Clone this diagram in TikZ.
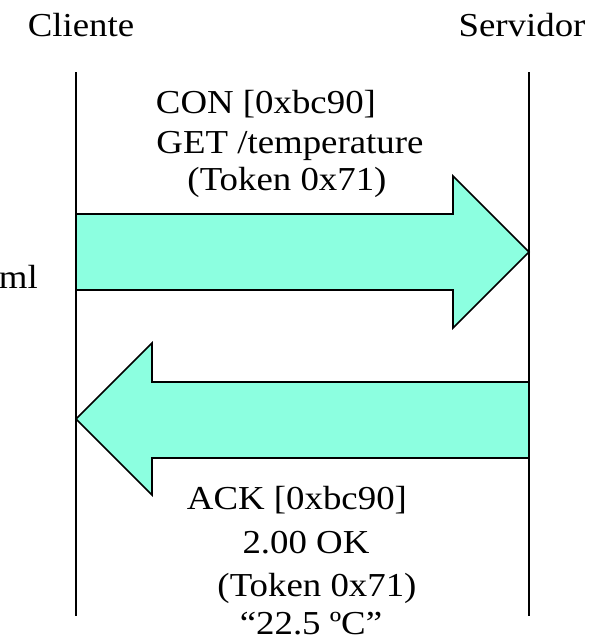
\documentclass[tikz,border=0pt]{standalone}
\usepackage{fontspec}
\setmainfont[FakeStretch=1.1]{Liberation Serif}
\definecolor{msgfill}{RGB}{140,255,224}
\tikzset{
    lbl/.style={anchor=base, inner sep=0pt, font=\fontsize{33.5}{40}\selectfont},
    lifeline/.style={line width=1.6pt},
    msgarrow/.style={draw, fill=msgfill, line width=1.6pt, line join=miter}
}
\begin{document}
    \begin{tikzpicture}[x=1pt,y=-1pt]
        \useasboundingbox (0,0) rectangle (605,642);

        \node[lbl] (cli) at (81, 37) {Cliente};
        \node[lbl] (srv) at (522, 37) {Servidor};
        \node[lbl, anchor=base east] (ml) at (38, 288) {ml};

        \coordinate (cliTop) at (76, 72);
        \coordinate (cliBot) at (76, 616);
        \coordinate (srvTop) at (529, 72);
        \coordinate (srvBot) at (529, 616);

        \draw[lifeline] (cliTop) -- (cliBot);
        \draw[lifeline] (srvTop) -- (srvBot);

        % request
        \draw[msgarrow] (76, 214) -- (453, 214) -- (453, 176) -- (529, 252)
            -- (453, 328) -- (453, 290) -- (76, 290) -- cycle;
        \node[lbl] (req1) at (266, 113) {CON [0xbc90]};
        \node[lbl] (req2) at (290, 153) {GET /temperature};
        \node[lbl] (req3) at (287, 190) {(Token 0x71)};

        % response
        \draw[msgarrow] (529, 382) -- (152, 382) -- (152, 343) -- (76, 419)
            -- (152, 495) -- (152, 458) -- (529, 458) -- cycle;
        \node[lbl] (res1) at (297, 509) {ACK [0xbc90]};
        \node[lbl] (res2) at (306, 553) {2.00 OK};
        \node[lbl] (res3) at (317, 596) {(Token 0x71)};
        \node[lbl] (res4) at (311, 634) {“22.5 ºC”};

    \end{tikzpicture}
\end{document}
